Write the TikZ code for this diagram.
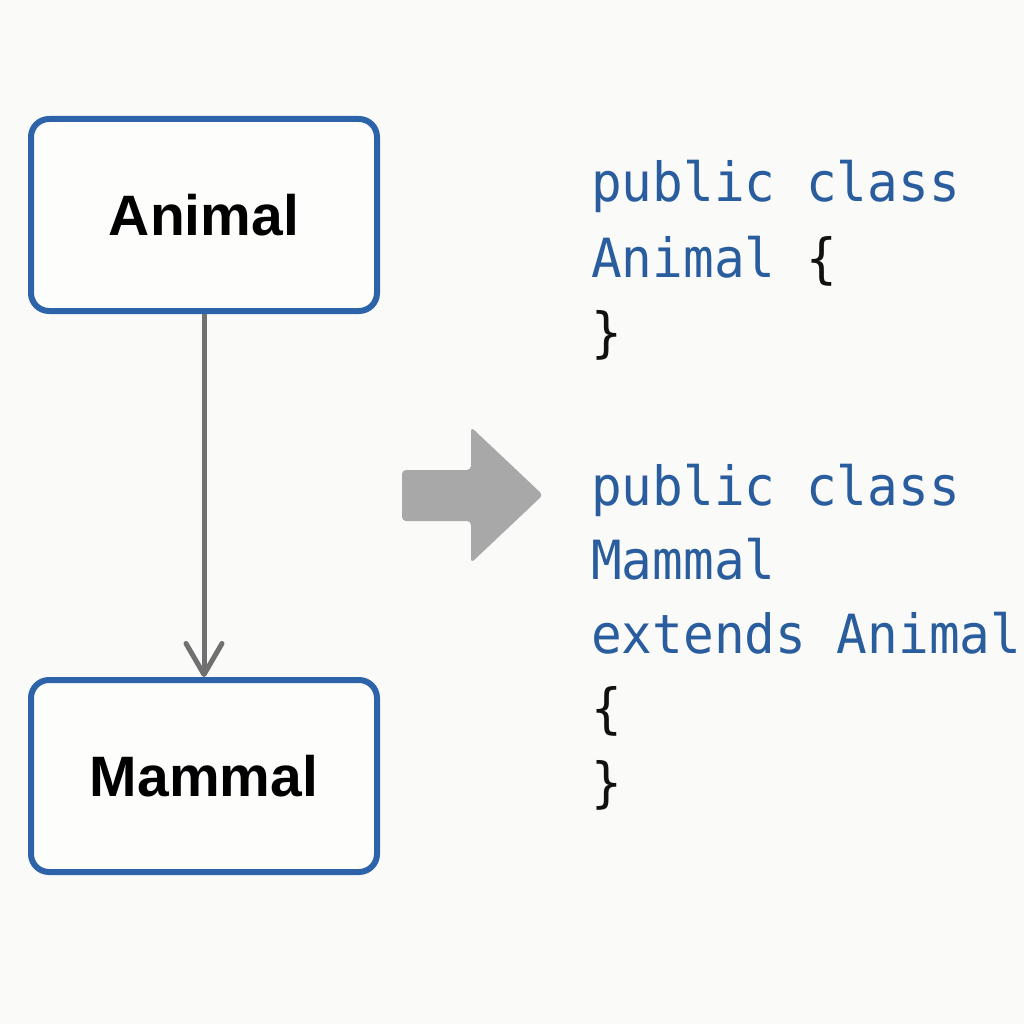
\documentclass[tikz,border=0pt]{standalone}
\usepackage{fontspec}
\usetikzlibrary{arrows.meta}
\newfontfamily\codefont[FakeStretch=0.945]{DejaVu Sans Mono}
\newfontfamily\labelfont{Liberation Sans}
\definecolor{bg}{HTML}{FAFAF8}
\definecolor{boxblue}{HTML}{2D63A8}
\definecolor{codeblue}{HTML}{2A5D9E}
\definecolor{conngray}{HTML}{707070}
\definecolor{bigarrow}{HTML}{A8A8A8}
\definecolor{brace}{HTML}{111111}
\tikzset{
  classbox/.style={draw=boxblue, line width=6pt, rounded corners=18pt, fill=white!60!bg,
    minimum width=346pt, minimum height=192pt, inner sep=0pt,
    font=\labelfont\bfseries\fontsize{57}{68}\selectfont, text=black},
  conn/.style={draw=conngray, line width=5pt,
    -{Straight Barb[length=31pt,width=36pt,round,line width=5pt]}},
  codeline/.style={anchor=base west, inner sep=0pt, text=codeblue,
    font=\codefont\fontsize{54}{60}\selectfont},
}
\begin{document}
\begin{tikzpicture}[x=1pt,y=-1pt]
\fill[bg] (0,0) rectangle (1024,1024);
\useasboundingbox (0,0) rectangle (1024,1024);

\node[classbox] (animal) at (204,215) {Animal};
\node[classbox] (mammal) at (204,776) {Mammal};
\draw[conn] (animal.south) -- (mammal.north);

% big gray arrow
\fill[bigarrow, rounded corners=4pt]
  (402,470) -- (471,470) -- (471,427) -- (543,495) -- (471,563) -- (471,521) -- (402,521) -- cycle;

% code block 1
\node[codeline] (c1) at (591,202) {public class};
\node[codeline] (c2) at (591,277) {Animal \textcolor{brace}{\{}};
\node[codeline] (c3) at (591,351) {\textcolor{brace}{\}}};

% code block 2
\node[codeline] (d1) at (591,505) {public class};
\node[codeline] (d2) at (591,579) {Mammal};
\node[codeline] (d3) at (591,653) {extends Animal};
\node[codeline] (d4) at (591,727) {\textcolor{brace}{\{}};
\node[codeline] (d5) at (591,801) {\textcolor{brace}{\}}};
\end{tikzpicture}
\end{document}
